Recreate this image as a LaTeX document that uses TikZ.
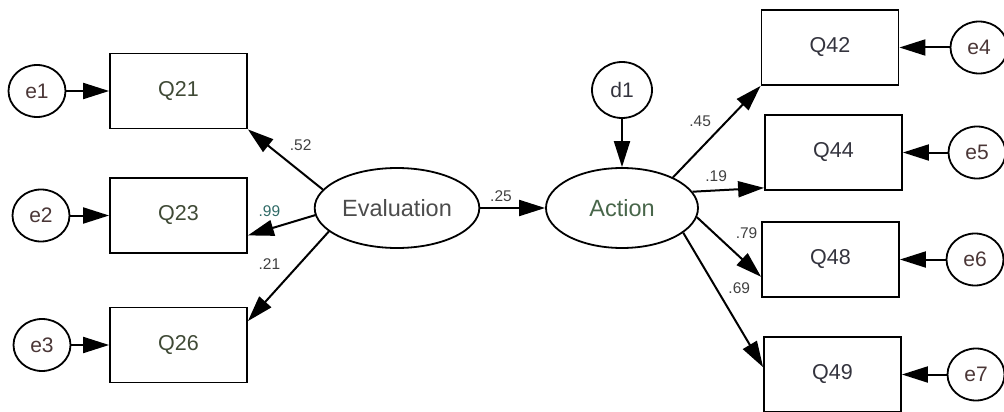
\documentclass[tikz,border=0pt]{standalone}
\usepackage{fontspec}
\setmainfont{Liberation Sans}
\usetikzlibrary{arrows.meta, shapes.geometric, positioning}
\definecolor{olivetxt}{HTML}{404A36}
\definecolor{slatetxt}{HTML}{34343E}
\definecolor{greentxt}{HTML}{48664A}
\definecolor{redtxt}{HTML}{4A3636}
\definecolor{tealtxt}{HTML}{2F6A66}

\begin{document}
\begin{tikzpicture}[
        x=1pt, y=-1pt,
        obs/.style={draw, line width=1.8pt, minimum width=137pt, minimum height=75pt, font=\fontsize{21.5}{25}\selectfont},
        lat/.style={draw, ellipse, line width=1.8pt, minimum width=152pt, minimum height=80pt, font=\fontsize{23.5}{27}\selectfont},
        err/.style={draw, ellipse, line width=1.8pt, minimum width=57pt, minimum height=52pt, inner sep=0pt, text=redtxt, font=\fontsize{21}{25}\selectfont},
        arr/.style={-{Triangle[length=26pt, width=16pt]}, line width=2pt},
        coef/.style={font=\fontsize{15.5}{18}\selectfont, inner sep=1.5pt, text=black!75}]

    \useasboundingbox (0,0) rectangle (1004,412);

    % measured variables
    \node[obs, text=olivetxt] (Q21) at (178.5,91) {Q21};
    \node[obs, text=olivetxt] (Q23) at (178.5,215.5) {Q23};
    \node[obs, text=olivetxt] (Q26) at (178.5,345) {Q26};
    \node[obs, text=slatetxt] (Q42) at (830,47.5) {Q42};
    \node[obs, text=slatetxt] (Q44) at (833.5,152.5) {Q44};
    \node[obs, text=slatetxt] (Q48) at (830.5,259.5) {Q48};
    \node[obs, text=slatetxt] (Q49) at (832.5,374.5) {Q49};

    % latent variables
    \node[lat, text=black!70] (Evaluation) at (397,208) {Evaluation};
    \node[lat, text=greentxt] (Action) at (622,208) {Action};

    % error terms
    \node[err] (e1) at (37,91) {e1};
    \node[err] (e2) at (41,215.5) {e2};
    \node[err] (e3) at (42,345) {e3};
    \node[err] (e4) at (979,47.5) {e4};
    \node[err] (e5) at (977,152.5) {e5};
    \node[err] (e6) at (975,259.5) {e6};
    \node[err] (e7) at (976,374.5) {e7};
    \node[err, text=slatetxt, minimum width=60pt, minimum height=56pt] (d1) at (622,90) {d1};

    \draw[arr] (e1) -- (Q21);
    \draw[arr] (e2) -- (Q23);
    \draw[arr] (e3) -- (Q26);
    \draw[arr] (e4) -- (Q42);
    \draw[arr] (e5) -- (Q44);
    \draw[arr] (e6) -- (Q48);
    \draw[arr] (e7) -- (Q49);
    \draw[arr] (d1) -- (Action);

    \draw[arr] (Evaluation.166) to node[coef, pos=0.53, above right=6pt] {.52} (Q21.south east);
    \draw[arr] (Evaluation.185) to node[coef, pos=0.68, above=10pt, text=tealtxt] {.99} (Q23.-16);
    \draw[arr] (Evaluation.199) to node[coef, pos=0.36, left=17pt] {.21} (Q26.19);
    \draw[arr] (Evaluation) to node[coef, pos=0.32, above=4pt] {.25} (Action);

    \draw[arr] (Action.31) to node[coef, pos=0.61, left=13pt] {.45} (Q42.south west);
    \draw[arr] (Action.13) to node[coef, pos=0.33, above=6pt] {.19} (Q44.207);
    \draw[arr] (Action.-7) to node[coef, pos=0.27, right=19pt] {.79} (Q48.194);
    \draw[arr] (Action.-22) to node[coef, pos=0.41, right=10pt] {.69} (Q49.174);

\end{tikzpicture}
\end{document}
